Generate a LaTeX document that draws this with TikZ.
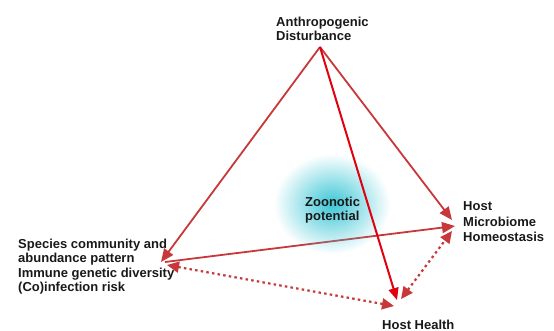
\documentclass[tikz,border=0pt]{standalone}
\usepackage{fontspec}
\setmainfont{Liberation Sans}
\usetikzlibrary{arrows.meta,fadings}
\definecolor{linered}{HTML}{C8373A}
\definecolor{brightred}{HTML}{E0000E}
\definecolor{glowcyan}{HTML}{3CC6D6}
\tikzfading[name=glowfade, inner color=transparent!0, outer color=transparent!100]
\tikzset{
  lbl/.style={font=\fontsize{13}{14.5}\selectfont\bfseries, align=left, inner sep=0pt, anchor=north west, text=black!90},
  conn/.style={draw=linered, line width=1.8pt, -{Triangle[length=13pt,width=11pt]}},
  strong/.style={draw=brightred, line width=2pt, -{Triangle[length=12pt,width=10pt]}},
  dotconn/.style={draw=linered, line width=2.2pt, dash pattern=on 2.5pt off 3.2pt, {Triangle[length=12pt,width=11pt]}-{Triangle[length=12pt,width=11pt]}},
}
\begin{document}
\begin{tikzpicture}[x=1pt,y=-1pt]
\useasboundingbox (0,0) rectangle (554,331);
% points
\coordinate (A) at (320,47);
\coordinate (Lt) at (161,262);
\coordinate (Rt) at (452,220);
\coordinate (Ht) at (397,300);
\coordinate (Ls) at (165,262);
\coordinate (Rs) at (455,226);
\coordinate (Ld) at (167,265);
\coordinate (Hd) at (394,306);
\coordinate (Hu) at (401,299);
\coordinate (Ru) at (452,231);
% solid species -> microbiome (under glow)
\draw[conn] (Ls) -- (Rs);
% glow
\fill[glowcyan, path fading=glowfade] (332,204) ellipse [x radius=58, y radius=50];
% texts
\node[lbl] (dist) at (276,16.6) {Anthropogenic\\Disturbance};
\node[lbl] (spec) at (18,238.7) {Species community and\\abundance pattern\\Immune genetic diversity\\(Co)infection risk};
\node[lbl, font=\fontsize{13}{15.2}\selectfont\bfseries] (micro) at (463,201.7) {Host\\Microbiome\\Homeostasis};
\node[lbl] (zoo) at (305,196.7) {Zoonotic\\potential};
\node[lbl] (health) at (382,319.7) {Host Health};
% connectors
\draw[conn] (A) -- (Lt);
\draw[conn] (A) -- (Rt);
\draw[dotconn] (Ld) -- (Hd);
\draw[dotconn] (Hu) -- (Ru);
\draw[strong] (A) -- (Ht);
\end{tikzpicture}
\end{document}
